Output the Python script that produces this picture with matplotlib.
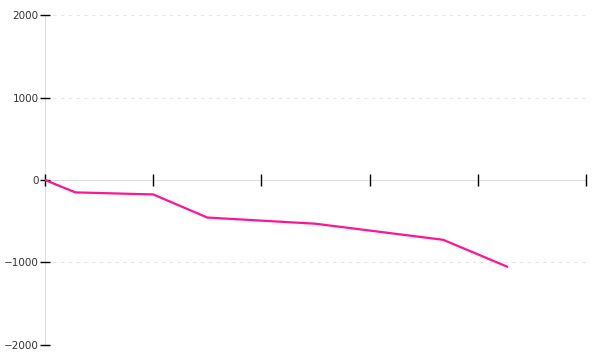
import numpy as np
import matplotlib
matplotlib.use("Agg")
import matplotlib.pyplot as plt

# data
xs = [0, 0.28, 1.0, 1.5, 2.5, 3.68, 4.27]
ys = [0, -150, -175, -455, -530, -725, -1050]
yticks = [-2000, -1000, 0, 1000, 2000]
xticks = [0, 1, 2, 3, 4, 5]

fig = plt.figure(figsize=(6, 3.6), dpi=100)
ax = fig.add_axes([0.075, 0.0417, 0.9017, 0.9166])

ax.plot(xs, ys, color='#ff1493', lw=1.6, solid_joinstyle='miter', zorder=3)

ax.set_xlim(0, 5)
ax.set_ylim(-2000, 2000)
ax.set_yticks(yticks)
ax.set_xticks(xticks)
ax.set_xticklabels([])

# light dashed gridlines
for v in yticks:
    if v != 0:
        ax.axhline(v, color='#e6e6e6', lw=0.8, ls=(0, (3, 4)), zorder=0)

for s in ['top', 'right']:
    ax.spines[s].set_visible(False)
ax.spines['bottom'].set_position(('data', 0))
ax.spines['bottom'].set_color('#dddddd')
ax.spines['left'].set_color('#dddddd')
ax.spines['bottom'].set_zorder(0.5)
ax.spines['left'].set_zorder(0.5)

ax.tick_params(axis='x', direction='inout', length=9, width=1, color='black')
ax.tick_params(axis='y', direction='inout', length=7, width=1, color='black',
               labelsize=7.5, labelcolor='#333333', pad=1)

fig.savefig('out.png', dpi=100)
